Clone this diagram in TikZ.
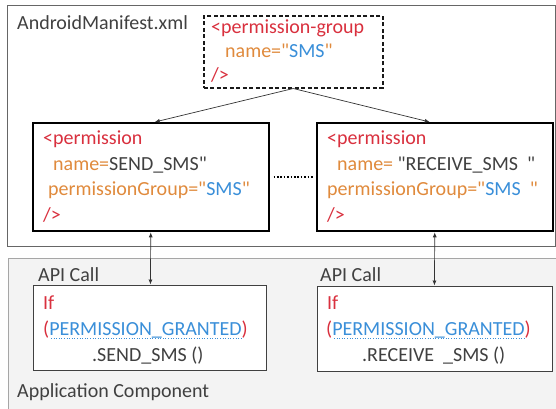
\documentclass[tikz,border=0pt]{standalone}
\usepackage{fontspec}
\setmainfont{Carlito}[Ligatures=TeXOff]
\usetikzlibrary{arrows.meta,calc}
\definecolor{xred}{HTML}{D9303E}
\definecolor{xorange}{HTML}{E08A3C}
\definecolor{xblue}{HTML}{3A8FD9}
\definecolor{xgray}{HTML}{404040}
\definecolor{panelfill}{HTML}{F3F3F3}
\tikzset{
  box/.style={draw, rectangle, inner sep=0pt, anchor=north west},
  permbox/.style={box, draw=black, line width=1.5pt, fill=white},
  apibox/.style={box, draw=black!75, line width=0.9pt, fill=white},
  grpbox/.style={box, draw=black!90, line width=1.5pt, dash pattern=on 4pt off 2.5pt, fill=white},
  txt/.style={anchor=base west, inner sep=0pt, font=\fontsize{20}{24}\selectfont, text=xgray},
  conn/.style={line width=0.7pt, black!80, -{Latex[length=5pt,width=4pt]}},
  biconn/.style={line width=0.7pt, black!80, {Latex[length=5pt,width=4pt]}-{Latex[length=5pt,width=4pt]}},
}
\newcommand{\pg}{\textcolor{xblue}{PERMISSION\_GRANTED}}
\newcommand{\q}{\symbol{34}}
\begin{document}
\begin{tikzpicture}[x=1pt,y=-1pt]
\useasboundingbox (0,0) rectangle (556,408);
% panels
\node[box, draw=black!60, line width=1.2pt, minimum width=548pt, minimum height=241pt] (manifest) at (7,5) {};
\node[box, draw=black!35, fill=panelfill, line width=0.8pt, minimum width=552pt, minimum height=160pt] (appcomp) at (8,258) {};
% boxes
\node[grpbox, minimum width=179pt, minimum height=72pt] (grp) at (203,15) {};
\node[permbox, minimum width=236pt, minimum height=108pt] (lp) at (32,122) {};
\node[permbox, minimum width=236pt, minimum height=108pt] (rp) at (316,122) {};
\node[apibox, minimum width=233pt, minimum height=85pt] (la) at (33,285) {};
\node[apibox, minimum width=235pt, minimum height=85pt] (ra) at (317,286) {};
% labels
\node[txt] (lbl1) at (17,29) {AndroidManifest.xml};
\node[txt] (lbl2) at (17,397) {Application Component};
\node[txt] (lbl3) at (38,281) {API Call};
\node[txt] (lbl4) at (320,281) {API Call};
% group text
\node[txt, text=xred] (g1) at (211,33) {<permission-group};
\node[txt, text=xorange] (g2) at (225,57) {name=\q\textcolor{xblue}{SMS}\q};
\node[txt, text=xred] (g3) at (211,81) {/>};
% left permission
\node[txt, text=xred] (l1) at (43,144) {<permission};
\node[txt, text=xorange] (l2) at (53,170) {name=\textcolor{xgray}{SEND\_SMS\q}};
\node[txt, text=xorange] (l3) at (48,195) {permissionGroup=\q\textcolor{xblue}{SMS}\q};
\node[txt, text=xred] (l4) at (43,221) {/>};
% right permission
\node[txt, text=xred] (r1) at (327,144) {<permission};
\node[txt, text=xorange] (r2) at (337,170) {name= \textcolor{xgray}{\q RECEIVE\_SMS\ \ \q}};
\node[txt, text=xorange] (r3) at (327,195) {permissionGroup=\q\textcolor{xblue}{SMS\ \ }\q};
\node[txt, text=xred] (r4) at (327,221) {/>};
% left api
\node[txt, text=xred] (la1) at (43,309) {If};
\node[txt, text=xred] (la2) at (43,335) {(\pg)};
\node[txt] (la3) at (92,361) {.SEND\_SMS ()};
% right api
\node[txt, text=xred] (ra1) at (327,309) {If};
\node[txt, text=xred] (ra2) at (326,335) {(\pg)};
\node[txt] (ra3) at (362,361) {.RECEIVE \ \_SMS ()};
% dotted underlines
\draw[xblue, line width=0.6pt, dotted] ($(la2.base west)+(8,3)$) -- ($(la2.base east)+(-6,3)$);
\draw[xblue, line width=0.6pt, dotted] ($(ra2.base west)+(8,3)$) -- ($(ra2.base east)+(-6,3)$);
% connectors
\draw[conn] (grp.south) -- ($(lp.north)+(4,0)$);
\draw[conn] (grp.south) -- ($(rp.north)+(-5,0)$);
\draw[line width=1.6pt, dash pattern=on 1.6pt off 1.8pt] ($(lp.east)+(4,0)$) -- ($(rp.west)+(-3,0)$);
\draw[biconn] ($(lp.south)+(0,0.8)$) -- ($(la.north)+(0.5,-0.5)$);
\draw[biconn] ($(rp.south)+(0,0.8)$) -- ($(ra.north)+(-0.5,-0.5)$);
\end{tikzpicture}
\end{document}
